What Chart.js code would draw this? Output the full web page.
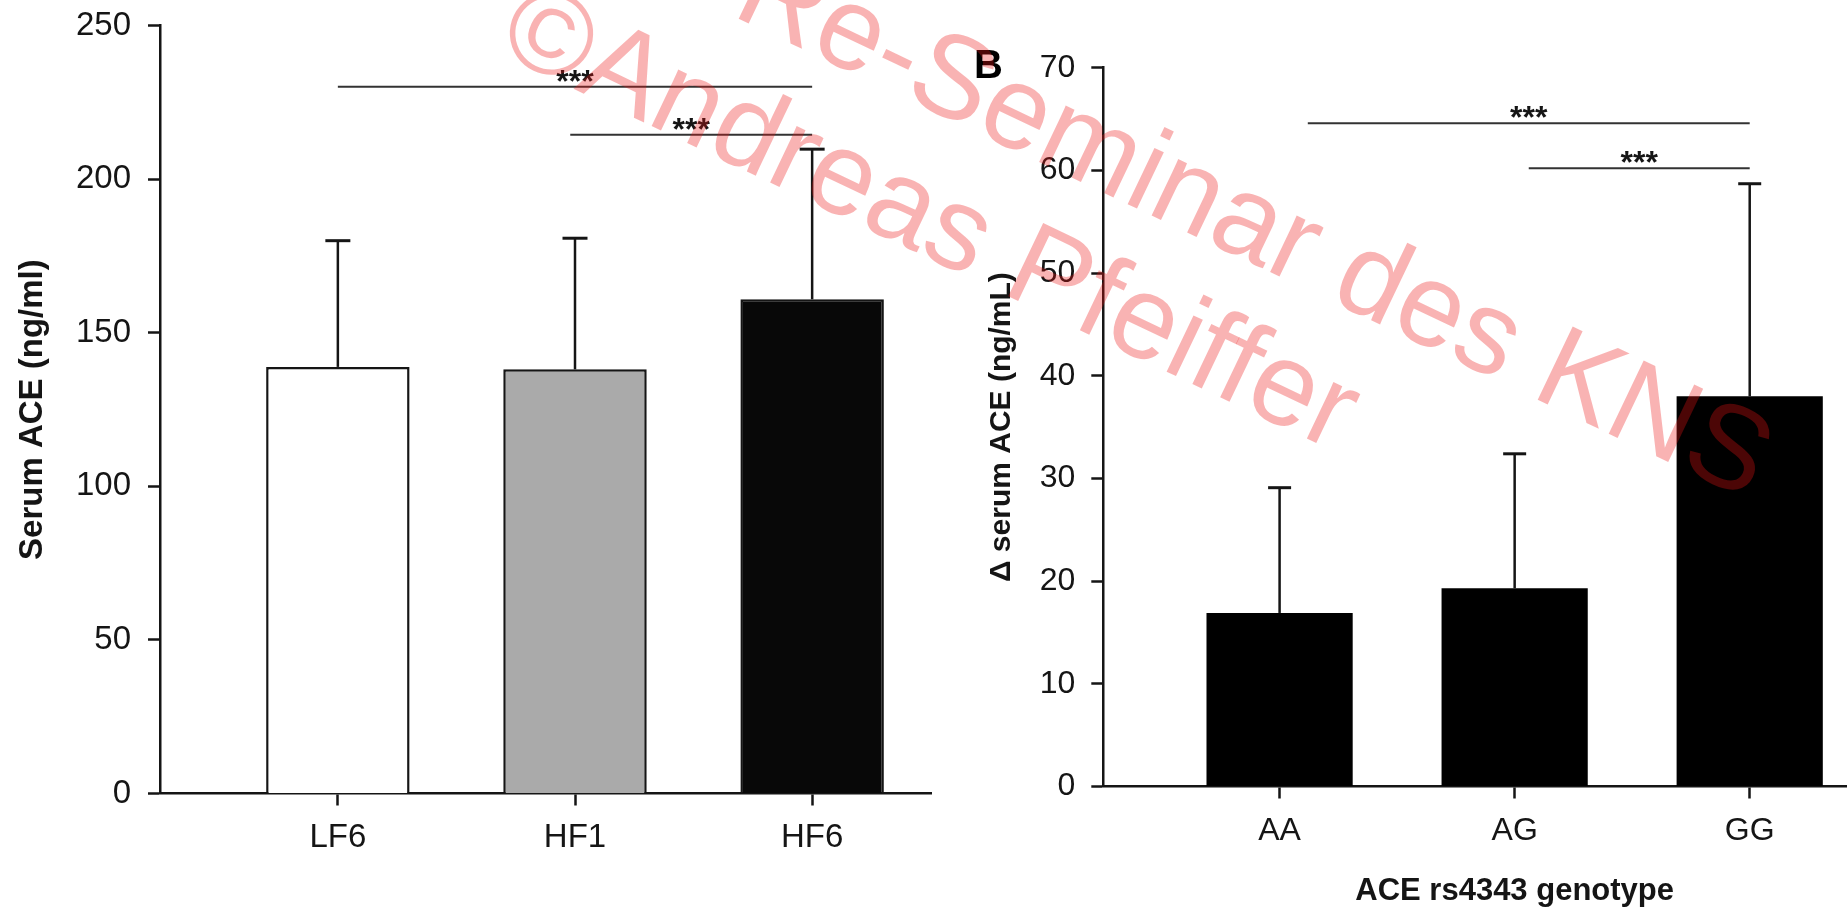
<!DOCTYPE html>
<html>
<head>
<meta charset="utf-8">
<title>Serum ACE</title>
<script src="https://cdn.jsdelivr.net/npm/chart.js@4.4.1/dist/chart.umd.min.js"></script>
<style>
  html, body { margin: 0; padding: 0; background: #fff; width: 1847px; height: 907px; overflow: hidden; }
  #panelA { position: absolute; left: 0; top: 0; width: 932px; height: 907px; overflow: hidden; }
  #panelB { position: absolute; left: 940px; top: 0; width: 907px; height: 907px; overflow: hidden; }
  #panelA canvas, #panelB canvas { position: absolute; left: 0; top: 0; }
  #mark { position: absolute; left: 0; top: 0; pointer-events: none; }
</style>
</head>
<body>
<div id="panelA"><canvas id="chartA" width="1000" height="907"></canvas></div>
<div id="panelB"><canvas id="chartB" width="986" height="907"></canvas></div>
<canvas id="mark" width="1847" height="907"></canvas>

<script>
// Panel A: serum ACE by diet group (mean, upper SD whisker)
const groupsA = ['LF6', 'HF1', 'HF6'];
const meanA = [138.9, 138.1, 160.9];
const upperA = [180.0, 180.8, 209.8];
const yTicksA = [0, 50, 100, 150, 200, 250];
const bracketFromA = [0, 0.98];
const bracketToA = [2, 2];
const bracketLevelA = [230.1, 214.5];
const bracketTextA = ['***', '***'];

// Panel B: change in serum ACE by rs4343 genotype
const genotypes = ['AA', 'AG', 'GG'];
const deltaMean = [16.9, 19.3, 38.0];
const deltaUpper = [29.1, 32.4, 58.7];
const yTicksB = [0, 10, 20, 30, 40, 50, 60, 70];
const bracketFromB = [0.12, 1.06];
const bracketToB = [2, 2];
const bracketLevelB = [64.6, 60.2];
const bracketTextB = ['***', '***'];

const FONT = '"Liberation Sans", Arial, Helvetica, sans-serif';
const INK = '#151515';

// upper whiskers drawn from the bar value to the SD value
const whiskers = {
  id: 'whiskers',
  afterDatasetsDraw(chart, args, opts) {
    const { ctx } = chart;
    const y = chart.scales.y;
    const meta = chart.getDatasetMeta(0);
    ctx.save();
    ctx.strokeStyle = INK;
    opts.upper.forEach((top, i) => {
      const bar = meta.data[i];
      const yTop = y.getPixelForValue(top);
      ctx.lineWidth = opts.stemWidth;
      ctx.beginPath();
      ctx.moveTo(bar.x, bar.y);
      ctx.lineTo(bar.x, yTop);
      ctx.stroke();
      ctx.lineWidth = opts.capWidth;
      ctx.beginPath();
      ctx.moveTo(bar.x - opts.capHalf, yTop);
      ctx.lineTo(bar.x + opts.capHalf, yTop);
      ctx.stroke();
    });
    ctx.restore();
  }
};

// significance brackets with their labels
const brackets = {
  id: 'brackets',
  afterDraw(chart, args, opts) {
    const { ctx } = chart;
    const x = chart.scales.x, y = chart.scales.y;
    ctx.save();
    ctx.strokeStyle = '#333';
    ctx.lineWidth = 2;
    ctx.fillStyle = INK;
    ctx.font = 'bold ' + opts.starSize + 'px ' + FONT;
    ctx.textAlign = 'center';
    ctx.textBaseline = 'alphabetic';
    opts.from.forEach((f, i) => {
      const x1 = x.getPixelForValue(f), x2 = x.getPixelForValue(opts.to[i]);
      const yy = y.getPixelForValue(opts.level[i]);
      ctx.beginPath();
      ctx.moveTo(x1, yy);
      ctx.lineTo(x2, yy);
      ctx.stroke();
      ctx.fillText(opts.text[i], (x1 + x2) / 2, yy + opts.starDrop);
    });
    if (opts.panel) {
      ctx.font = 'bold 40px ' + FONT;
      ctx.textAlign = 'left';
      ctx.fillStyle = '#000';
      ctx.fillText(opts.panel, 34, 78);
    }
    ctx.restore();
  }
};

function makeChart(id, cfg) {
  const catTicks = cfg.categories.map((_, i) => ({ value: i }));
  return new Chart(document.getElementById(id), {
    type: 'bar',
    data: {
      datasets: [{
        data: cfg.categories.map((c, i) => ({ x: i, y: cfg.values[i] })),
        backgroundColor: cfg.fill,
        borderColor: cfg.border,
        borderWidth: cfg.borderWidth,
        borderSkipped: 'start',
        categoryPercentage: 1,
        barPercentage: cfg.barPct
      }]
    },
    options: {
      responsive: false,
      animation: false,
      devicePixelRatio: 1,
      layout: { padding: { left: 0, top: cfg.padTop, right: cfg.padRight, bottom: 0 } },
      plugins: {
        legend: { display: false },
        tooltip: { enabled: false },
        whiskers: { upper: cfg.upper, stemWidth: 2.5, capWidth: 3, capHalf: cfg.capHalf },
        brackets: {
          from: cfg.bFrom, to: cfg.bTo, level: cfg.bLevel, text: cfg.bText,
          starSize: 32, starDrop: 5, panel: cfg.panel
        }
      },
      scales: {
        x: {
          type: 'linear',
          min: -0.75,
          max: 2.75,
          offset: false,
          afterBuildTicks: (s) => { s.ticks = catTicks.map(t => ({ ...t })); },
          afterFit: (s) => { s.height = cfg.xHeight; s.paddingLeft = 0; s.paddingRight = 0; },
          ticks: {
            callback: (v) => cfg.categories[v],
            autoSkip: false,
            maxRotation: 0,
            padding: 13,
            color: INK,
            font: { family: FONT, size: cfg.tickSize }
          },
          grid: {
            offset: false, drawOnChartArea: false, drawTicks: true,
            tickLength: 12, tickWidth: 2.5, tickColor: INK
          },
          border: { display: true, color: INK, width: 2.5 },
          title: {
            display: !!cfg.xTitle, text: cfg.xTitle || '', color: INK,
            font: { family: FONT, size: 31, weight: 'bold', lineHeight: 1 },
            padding: { top: 0, bottom: 0 }
          }
        },
        y: {
          min: cfg.yTicks[0],
          max: cfg.yTicks[cfg.yTicks.length - 1],
          afterBuildTicks: (s) => { s.ticks = cfg.yTicks.map(v => ({ value: v })); },
          afterFit: (s) => { s.width = cfg.yWidth; s.paddingTop = 0; s.paddingBottom = 0; },
          ticks: {
            padding: cfg.yPad,
            color: INK,
            font: { family: FONT, size: cfg.tickSize }
          },
          grid: {
            drawOnChartArea: false, drawTicks: true,
            tickLength: 12, tickWidth: 2.5, tickColor: INK
          },
          border: { display: true, color: INK, width: 2.5 },
          title: {
            display: true, text: cfg.yTitle, color: INK,
            font: { family: FONT, size: cfg.yTitleSize, weight: 'bold', lineHeight: 1.2 },
            padding: { top: cfg.yTitlePad, bottom: 0 }
          }
        }
      }
    },
    plugins: [whiskers, brackets]
  });
}

makeChart('chartA', {
  categories: groupsA, values: meanA, upper: upperA, yTicks: yTicksA,
  fill: ['#ffffff', '#aaaaaa', '#080808'], border: INK, borderWidth: 2.5,
  barPct: 0.605, capHalf: 12.5, padTop: 25.7, padRight: 10,
  xHeight: 113.5, yWidth: 160, yPad: 17, tickSize: 33,
  yTitle: 'Serum ACE (ng/ml)', yTitleSize: 33, yTitlePad: 13,
  bFrom: bracketFromA, bTo: bracketToA, bLevel: bracketLevelA, bText: bracketTextA
});

makeChart('chartB', {
  categories: genotypes, values: deltaMean, upper: deltaUpper, yTicks: yTicksB,
  fill: '#000000', border: '#000000', borderWidth: 0,
  barPct: 0.622, capHalf: 11.5, padTop: 67.7, padRight: 0,
  xHeight: 120.5, yWidth: 163.3, yPad: 16, tickSize: 32,
  yTitle: '\u0394 serum ACE (ng/mL)', yTitleSize: 30, yTitlePad: 44,
  xTitle: 'ACE rs4343 genotype',
  bFrom: bracketFromB, bTo: bracketToB, bLevel: bracketLevelB, bText: bracketTextB,
  panel: 'B'
});

// copyright watermark across both panels
(function () {
  const c = document.getElementById('mark').getContext('2d');
  const angle = 25.5 * Math.PI / 180;
  c.fillStyle = 'rgba(235, 20, 20, 0.32)';
  c.font = '118px ' + FONT;
  c.textAlign = 'right';
  c.textBaseline = 'alphabetic';
  [['Re-Seminar des KNS', 1748, 500], ['\u00A9Andreas Pfeiffer', 1335, 452]].forEach(([t, ex, ey]) => {
    c.save();
    c.translate(ex, ey);
    c.rotate(angle);
    c.fillText(t, 0, 0);
    c.restore();
  });
})();
</script>
</body>
</html>
